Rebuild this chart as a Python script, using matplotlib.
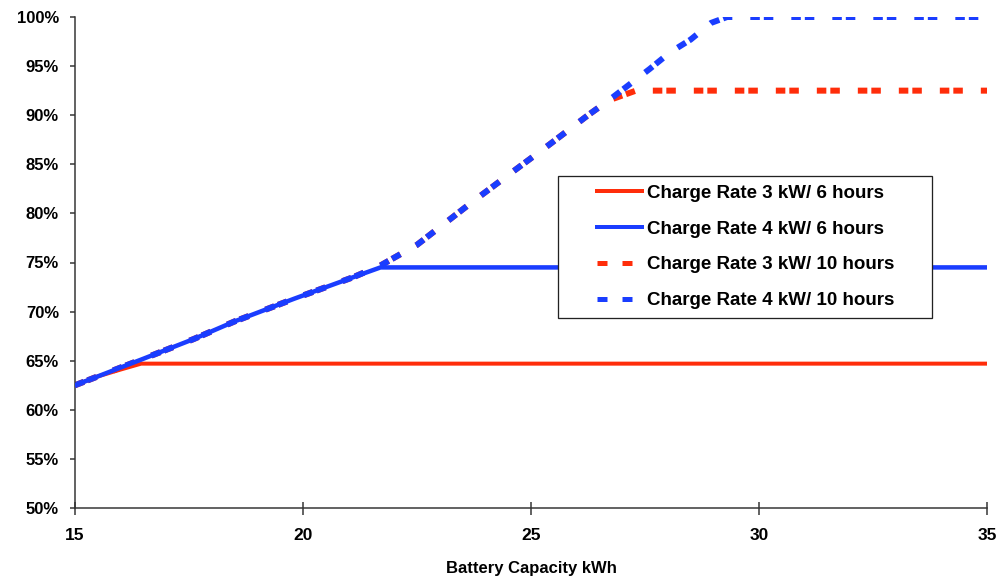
import matplotlib
matplotlib.use("Agg")
import matplotlib.pyplot as plt
from matplotlib.lines import Line2D
from matplotlib.patches import Rectangle
from matplotlib.ticker import FuncFormatter

plt.rcParams['font.family'] = ['Liberation Sans', 'DejaVu Sans']
plt.rcParams['font.weight'] = 'bold'

# valores (kWh, %)
x_r6 = [15, 15.5, 16, 16.45, 35]
y_r6 = [62.5, 63.4, 64.1, 64.7, 64.7]

x_b6 = [15, 16.5, 17.6, 18.5, 19.8, 21.1, 21.7, 35]
y_b6 = [62.5, 65.2, 67.2, 69.0, 71.3, 73.5, 74.5, 74.5]

x_r10 = [15, 16.5, 17.6, 18.5, 19.8, 21.1, 21.7, 22.5, 23.0, 23.75, 24.5,
         25.4, 26.25, 26.7, 27.3, 35]
y_r10 = [62.5, 65.2, 67.2, 69.0, 71.3, 73.5, 74.7, 76.8, 78.6, 81.3, 83.9,
         87.0, 90.0, 91.5, 92.5, 92.5]

x_b10 = [15, 16.5, 17.6, 18.5, 19.8, 21.1, 21.7, 22.5, 23.0, 23.75, 24.5,
         25.4, 26.25, 26.7, 27.15, 27.6, 28.05, 28.5, 28.95, 29.3, 35]
y_b10 = [62.5, 65.2, 67.2, 69.0, 71.3, 73.5, 74.7, 76.8, 78.6, 81.3, 83.9,
         87.0, 90.0, 91.5, 93.1, 94.7, 96.4, 97.7, 99.4, 100, 100]

labels = ["Charge Rate 3 kW/ 6 hours", "Charge Rate 4 kW/ 6 hours",
          "Charge Rate 3 kW/ 10 hours", "Charge Rate 4 kW/ 10 hours"]
xticks = [15, 20, 25, 30, 35]
yticks = [50, 55, 60, 65, 70, 75, 80, 85, 90, 95, 100]

RED = '#FF2D0A'
BLUE = '#1A3DFF'
px = 0.72  # 1 px en puntos

fig = plt.figure(figsize=(10.01, 5.79), dpi=100)
ax = fig.add_axes([75 / 1001, 1 - 508 / 579, 912 / 1001, 491 / 579])

dash_lw = 6 * px
pat = (9.5 / 6, 4 / 6, 9.5 / 6, 18 / 6)
ax.plot(x_r10, y_r10, color=RED, lw=dash_lw, dashes=pat, zorder=2)
ax.plot(x_b10, y_b10, color=BLUE, lw=dash_lw, dashes=pat, zorder=2.1)
ax.plot(x_r6, y_r6, color=RED, lw=4 * px, zorder=3)
ax.plot(x_b6, y_b6, color=BLUE, lw=4.5 * px, zorder=3.1)

ax.set_xlim(15, 35)
ax.set_ylim(50, 100)
ax.set_xticks(xticks)
ax.set_yticks(yticks)
ax.yaxis.set_major_formatter(FuncFormatter(lambda v, p: f"{v:.0f}%"))

for s in ['top', 'right']:
    ax.spines[s].set_visible(False)
for s in ['left', 'bottom']:
    ax.spines[s].set_color('#333333')
    ax.spines[s].set_linewidth(1.5 * px)
ax.tick_params(axis='y', direction='out', length=5 * px, width=1.5 * px,
               color='#333333', labelsize=12, pad=8)
ax.tick_params(axis='x', direction='inout', length=13 * px, width=1.5 * px,
               color='#333333', labelsize=12.5, pad=10)
ax.set_xlabel("Battery Capacity kWh", fontsize=12, fontweight='bold', labelpad=13)

# caja de la leyenda
ax.add_patch(Rectangle((483 / 912, 190 / 491), 374 / 912, 142 / 491,
                       transform=ax.transAxes, facecolor='white',
                       edgecolor='#222222', lw=1.3 * px, zorder=5))

handles = [
    Line2D([], [], color=RED, lw=4 * px),
    Line2D([], [], color=BLUE, lw=4 * px),
    Line2D([], [], color=RED, lw=5 * px, dashes=(10 / 5, 15 / 5)),
    Line2D([], [], color=BLUE, lw=5 * px, dashes=(10 / 5, 15 / 5)),
]
leg = ax.legend(handles, labels, loc='upper left',
                bbox_to_anchor=(522 / 912, 323.5 / 491), frameon=False,
                prop={'size': 13.5, 'weight': 'bold'}, handlelength=2.4,
                handletextpad=0.27, labelspacing=1.0, borderaxespad=0,
                borderpad=0)
leg.set_zorder(6)

fig.savefig("out.png", dpi=100)
